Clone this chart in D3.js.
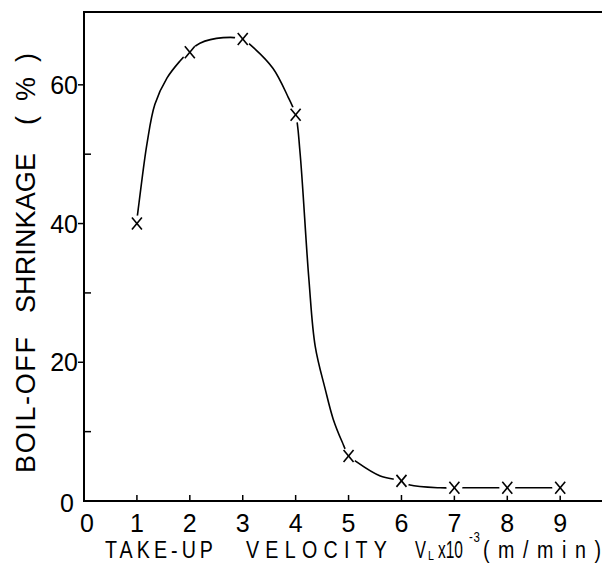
<!DOCTYPE html>
<html>
<head>
<meta charset="utf-8">
<script src="https://cdn.jsdelivr.net/npm/d3@7"></script>
<style>
  html, body { margin: 0; padding: 0; background: #fff; }
  svg { display: block; }
  text { font-family: "Liberation Sans", Arial, sans-serif; fill: #000; }
</style>
</head>
<body>
<script>
// ---- data ----
const velocity = [1, 2, 3, 4, 5, 6, 7, 8, 9];                 // V_L x10^-3 (m/min)
const shrinkage = [40, 64.7, 66.6, 55.7, 6.5, 2.9, 1.9, 1.9, 1.9]; // boil-off shrinkage (%)
// hand-drawn guide curve
const curveX = [0.99, 1.04, 1.19, 1.34, 1.57, 1.81, 2.0, 2.19, 2.63, 3.0, 3.14, 3.57, 3.86, 4.0, 4.08, 4.25, 4.37, 4.56, 4.71, 4.88, 5.0, 5.16, 5.6, 6.0, 6.16, 6.73, 7, 8, 9];
const curveY = [40, 43, 51.5, 57.2, 61.0, 63.4, 64.9, 66.0, 66.8, 66.6, 65.8, 62.4, 58.2, 55.7, 50.5, 32, 22.3, 16.1, 11.8, 8.5, 6.6, 5.6, 3.6, 2.9, 2.3, 1.9, 1.9, 1.9, 1.9];
const xTicks = [0, 1, 2, 3, 4, 5, 6, 7, 8, 9];
const yMajor = [20, 40, 60];
const yMinor = [10, 30, 50];

const W = 602, H = 563;
const svg = d3.select("body").append("svg").attr("width", W).attr("height", H);

const x = d3.scaleLinear().domain([0, 9.79]).range([84, 602]);
const y = d3.scaleLinear().domain([0, 70.5]).range([501, 12]);

const ink = "#000";

// frame: left, top, bottom
svg.append("line").attr("x1", 84).attr("x2", 84).attr("y1", 11).attr("y2", 502).attr("stroke", ink).attr("stroke-width", 2);
svg.append("line").attr("x1", 83).attr("x2", 602).attr("y1", 12).attr("y2", 12).attr("stroke", ink).attr("stroke-width", 2);
svg.append("line").attr("x1", 83).attr("x2", 602).attr("y1", 501).attr("y2", 501).attr("stroke", ink).attr("stroke-width", 2);

// x ticks (inward) + labels
svg.selectAll(".xt").data(xTicks.filter(d => d > 0)).enter().append("line")
  .attr("x1", d => x(d)).attr("x2", d => x(d)).attr("y1", 501).attr("y2", 495)
  .attr("stroke", ink).attr("stroke-width", 1.5);
svg.selectAll(".xl").data(xTicks).enter().append("text")
  .attr("x", d => x(d) + (d === 0 ? 3 : 0)).attr("y", 532)
  .attr("text-anchor", "middle").attr("font-size", 25)
  .text(d => d);

// y ticks
svg.selectAll(".ym").data(yMinor).enter().append("line")
  .attr("x1", 84).attr("x2", 91).attr("y1", d => y(d)).attr("y2", d => y(d))
  .attr("stroke", ink).attr("stroke-width", 1.5);
svg.selectAll(".yM").data(yMajor).enter().append("line")
  .attr("x1", 78).attr("x2", 84).attr("y1", d => y(d)).attr("y2", d => y(d))
  .attr("stroke", ink).attr("stroke-width", 1.5);
svg.selectAll(".yl").data(yMajor).enter().append("text")
  .attr("x", 78).attr("y", d => y(d) + 9)
  .attr("text-anchor", "end").attr("font-size", 25)
  .text(d => d);
svg.append("text").attr("x", 67).attr("y", y(0) + 11).attr("text-anchor", "middle").attr("font-size", 25).text("0");

// curve
const line = d3.line().x((d, i) => x(curveX[i])).y((d, i) => y(curveY[i])).curve(d3.curveCatmullRom.alpha(0.5));
svg.append("path").datum(curveX).attr("d", line)
  .attr("fill", "none").attr("stroke", ink).attr("stroke-width", 1.6);

// gaps around markers
svg.selectAll(".gap").data(velocity).enter().append("circle")
  .attr("cx", d => x(d)).attr("cy", (d, i) => y(shrinkage[i])).attr("r", 8).attr("fill", "#fff");

// markers (x)
const mk = svg.selectAll(".mk").data(velocity).enter().append("g")
  .attr("transform", (d, i) => `translate(${x(d)},${y(shrinkage[i])})`);
mk.append("line").attr("x1", -5).attr("y1", -6).attr("x2", 5).attr("y2", 6).attr("stroke", ink).attr("stroke-width", 1.6);
mk.append("line").attr("x1", 5).attr("y1", -6).attr("x2", -5).attr("y2", 6).attr("stroke", ink).attr("stroke-width", 1.6);

// fit a text into a target length: widen spacing, or compress glyphs if too wide
function fit(t, target) {
  const nat = t.node().getComputedTextLength();
  t.attr("textLength", target).attr("lengthAdjust", nat > target ? "spacingAndGlyphs" : "spacing");
}
// x axis title pieces (glyphs narrowed to 82%, then spaced to fit)
const SX = 0.82;
function piece(txt, x0, x1, yy, size) {
  const t = svg.append("text").attr("transform", `translate(${x0},${yy}) scale(${SX},1)`)
    .attr("font-size", size).text(txt);
  fit(t, (x1 - x0) / SX);
}
piece("TAKE-UP", 105, 213, 558, 24);
piece("VELOCITY", 246, 387, 558, 24);
piece("V", 415, 426, 558, 24);
piece("L", 428, 435, 560, 13);
piece("x10", 438, 463, 558, 24);
piece("-3", 469, 480, 542, 14);
piece("(m/min)", 483, 601, 558, 24);

// y axis title pieces (rotated)
function vpiece(txt, yBottom, yTop, xx, size) {
  const t = svg.append("text").attr("transform", `translate(${xx},${yBottom}) rotate(-90)`)
    .attr("x", 0).attr("y", 0).attr("font-size", size).text(txt);
  fit(t, yBottom - yTop);
}
vpiece("BOIL-OFF", 473, 337, 35, 27);
vpiece("SHRINKAGE", 313, 153, 35, 27);
vpiece("(  %  )", 125, 53, 35, 27);
</script>
</body>
</html>
